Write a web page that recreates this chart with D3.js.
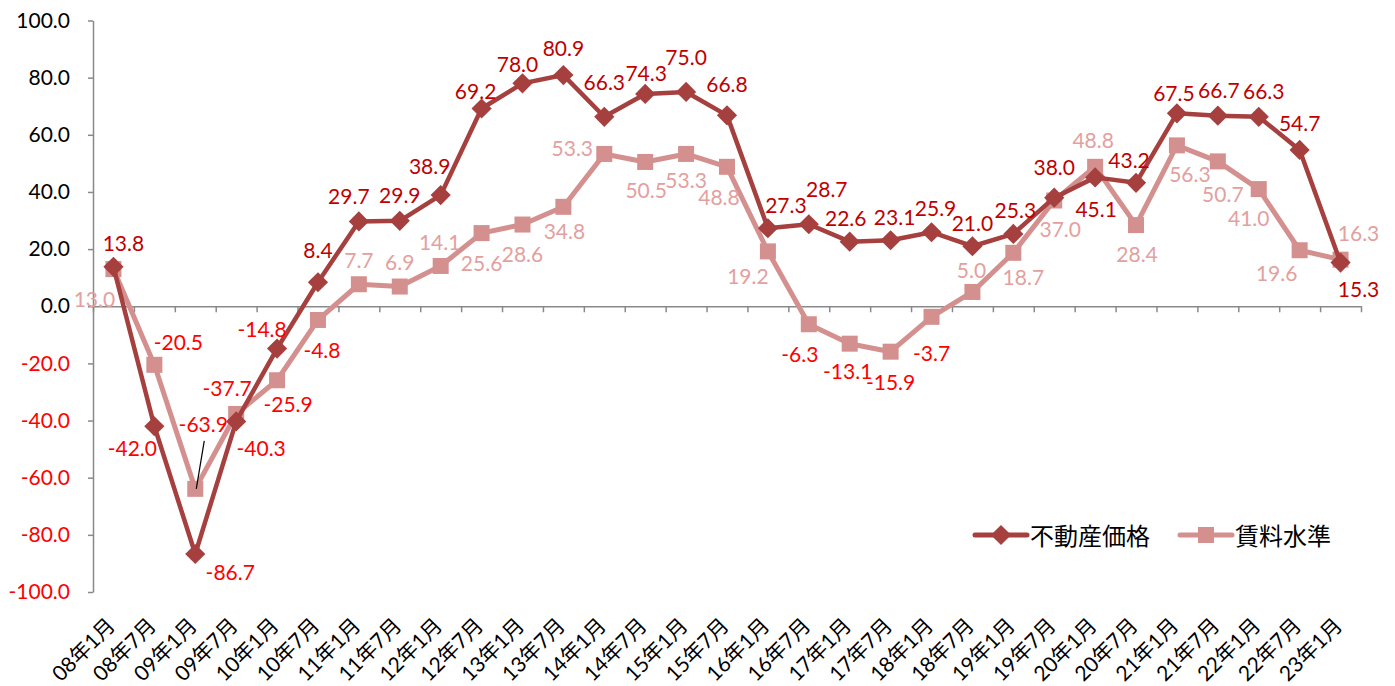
<!DOCTYPE html>
<html><head><meta charset="utf-8">
<script src="https://cdn.jsdelivr.net/npm/d3@7"></script>
<style>
html,body{margin:0;padding:0;background:#fff;}
svg text{font-family:Lato,"Noto Sans CJK JP",sans-serif;}
</style></head>
<body>
<svg id="chart" width="1395" height="686"></svg>
<script>
const categories = ["08年1月","08年7月","09年1月","09年7月","10年1月","10年7月","11年1月","11年7月","12年1月","12年7月","13年1月","13年7月","14年1月","14年7月","15年1月","15年7月","16年1月","16年7月","17年1月","17年7月","18年1月","18年7月","19年1月","19年7月","20年1月","20年7月","21年1月","21年7月","22年1月","22年7月","23年1月"];
const seriesNames = ["不動産価格","賃料水準"];
const priceValues = [13.8,-42.0,-86.7,-40.3,-14.8,8.4,29.7,29.9,38.9,69.2,78.0,80.9,66.3,74.3,75.0,66.8,27.3,28.7,22.6,23.1,25.9,21.0,25.3,38.0,45.1,43.2,67.5,66.7,66.3,54.7,15.3];
const rentValues = [13.0,-20.5,-63.9,-37.7,-25.9,-4.8,7.7,6.9,14.1,25.6,28.6,34.8,53.3,50.5,53.3,48.8,19.2,-6.3,-13.1,-15.9,-3.7,5.0,18.7,37.0,48.8,28.4,56.3,50.7,41.0,19.6,16.3];
const yTicks = [-100,-80,-60,-40,-20,0,20,40,60,80,100];

// label placement (layout only, offsets from the point in px)
const priceLabelOffsets = [[10,-24],[-22,21],[35,18],[25,26],[-15,-20],[0,-33],[-10,-26],[0,-26],[-11,-30],[-6,-18],[-5,-20],[0,-28],[0,-35],[1,-21],[0,-35],[0,-32],[18,-24],[18,-36],[-4,-24],[4,-24],[4,-25],[0,-24],[2,-24],[0,-31],[1,31],[-7,-23],[-3,-21],[1,-26],[5,-26],[0,-27],[18,26]];
const rentLabelOffsets = [[-19,29],[24,-23],[8,-65],[-9,-26],[11,23],[4,30],[0,-25],[0,-25],[-1,-24],[0,29],[0,29],[1,24],[-32,-6],[1,28],[0,26],[-8,30],[-20,24],[-9,29],[-2,27],[0,30],[0,36],[-1,-22],[10,24],[6,28],[-2,-27],[1,28],[13,28],[5,32],[-10,28],[-23,22],[18,-27]];

(function(){
const svg = d3.select("#chart");
const pLeft = 93, pRight = 1361, pTop = 20.5, pBottom = 592;
const x = d3.scaleBand().domain(categories).range([pLeft, pRight]);
const xc = c => x(c) + x.bandwidth()/2;
const y = d3.scaleLinear().domain([-100,100]).range([pBottom, pTop]);
const fmt = v => v.toFixed(1);
const axisColor = "#898989";
const c1 = "#A5403F", c2 = "#D4908E";
const lab1 = "#C00000", lab2 = "#E3A09E", neg = "#FF0000";

// Y axis
const yAxis = svg.append("g").attr("transform", `translate(${pLeft},0)`)
  .call(d3.axisLeft(y).tickValues(yTicks).tickSize(5).tickSizeOuter(0).tickPadding(18).tickFormat(fmt));
yAxis.select(".domain").attr("stroke", axisColor).attr("stroke-width", 1.5);
yAxis.selectAll(".tick line").attr("stroke", axisColor).attr("stroke-width", 1.5);
yAxis.selectAll(".tick text").attr("font-size", 21).attr("font-family", "Lato")
  .attr("fill", d => d < 0 ? neg : "#000");

// X axis at zero (ticks between categories)
const xi = d3.scaleLinear().domain([0, categories.length]).range([pLeft, pRight]);
const xAxis = svg.append("g").attr("transform", `translate(0,${y(0)})`)
  .call(d3.axisBottom(xi).tickValues(d3.range(0, categories.length + 1)).tickSize(6).tickSizeOuter(0).tickFormat(""));
xAxis.select(".domain").attr("stroke", axisColor).attr("stroke-width", 1.5);
xAxis.selectAll(".tick line").attr("stroke", axisColor).attr("stroke-width", 1.5);

// Category labels
svg.append("g").selectAll("text").data(categories).join("text")
  .attr("transform", d => `translate(${xc(d) + 3},627) rotate(-45)`)
  .attr("text-anchor", "end")
  .attr("font-size", 21)
  .attr("fill", "#000")
  .text(d => d);

const line = d3.line().x((d, i) => xc(categories[i])).y(d => y(d));

// Rent series (pink, squares)
svg.append("path").datum(rentValues).attr("d", line)
  .attr("fill", "none").attr("stroke", c2).attr("stroke-width", 5).attr("stroke-linejoin", "round");
svg.append("g").selectAll("rect").data(rentValues).join("rect")
  .attr("x", (d, i) => xc(categories[i]) - 8).attr("y", d => y(d) - 8)
  .attr("width", 16).attr("height", 16).attr("fill", c2);

// Price series (dark red, diamonds)
svg.append("path").datum(priceValues).attr("d", line)
  .attr("fill", "none").attr("stroke", c1).attr("stroke-width", 4.5).attr("stroke-linejoin", "round");
const diamond = d3.symbol().type(d3.symbolDiamond2).size(260);
svg.append("g").selectAll("path").data(priceValues).join("path")
  .attr("d", diamond)
  .attr("transform", (d, i) => `translate(${xc(categories[i])},${y(d)})`)
  .attr("fill", c1);

// Leader line for -63.9
svg.append("line")
  .attr("x1", xc(categories[2]) + 9).attr("y1", y(rentValues[2]) - 48)
  .attr("x2", xc(categories[2]) + 1).attr("y2", y(rentValues[2]))
  .attr("stroke", "#000").attr("stroke-width", 1.2);

// Data labels
function labels(values, offsets, posColor) {
  svg.append("g").selectAll("text").data(values).join("text")
    .attr("x", (d, i) => xc(categories[i]) + offsets[i][0])
    .attr("y", (d, i) => y(d) + offsets[i][1])
    .attr("text-anchor", "middle").attr("dominant-baseline", "central")
    .attr("font-size", 21).attr("font-family", "Lato")
    .attr("fill", d => d < 0 ? neg : posColor)
    .text(d => fmt(d));
}
labels(rentValues, rentLabelOffsets, lab2);
labels(priceValues, priceLabelOffsets, lab1);

// Legend
const lg = svg.append("g");
const legendItems = [
  {name: seriesNames[0], color: c1, x0: 975, type: "diamond"},
  {name: seriesNames[1], color: c2, x0: 1180, type: "square"}
];
legendItems.forEach(it => {
  const ly = 535;
  lg.append("line").attr("x1", it.x0).attr("x2", it.x0 + 52).attr("y1", ly).attr("y2", ly)
    .attr("stroke", it.color).attr("stroke-width", 5).attr("stroke-linecap", "round");
  if (it.type === "diamond") {
    lg.append("path").attr("d", diamond).attr("transform", `translate(${it.x0 + 26},${ly})`).attr("fill", it.color);
  } else {
    lg.append("rect").attr("x", it.x0 + 18).attr("y", ly - 8).attr("width", 16).attr("height", 16).attr("fill", it.color);
  }
  lg.append("text").attr("x", it.x0 + 55).attr("y", ly).attr("dominant-baseline", "central")
    .attr("font-size", 24).attr("font-family", "Noto Sans CJK JP").attr("fill", "#000").text(it.name);
});
})();
</script>
</body></html>
